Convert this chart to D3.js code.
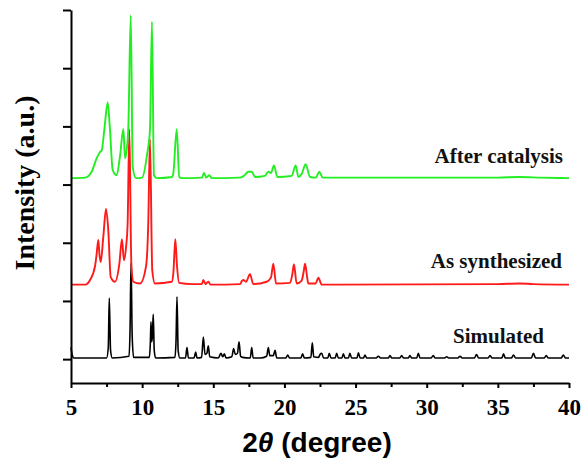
<!DOCTYPE html>
<html>
<head>
<meta charset="utf-8">
<style>
    body { margin: 0; background: #fff; }
    svg { display: block; }
    .axis path, .axis line { stroke: #000; stroke-width: 2px; }
    .axis text {
        font-family: 'Liberation Serif', 'Times New Roman', serif;
        font-weight: bold;
        font-size: 23px;
        fill: #000;
    }
    .label {
        font-family: 'Liberation Serif', 'Times New Roman', serif;
        font-weight: bold;
        font-size: 21px;
        fill: #111;
    }
</style>
</head>
<body>
<svg width="588" height="458"></svg>
<script src="https://d3js.org/d3.v7.min.js"></script>
<script>
// values: [2theta, intensity (a.u., offset included)]
let simulated = [
    [5.0, 20], [5.08, 8], [5.2, 2], [7.5, 2], [7.62, 20], [7.69, 105], [7.78, 15], [7.9, 2],
    [9.08, 5], [9.15, 50], [9.22, 165], [9.3, 40], [9.4, 3],
    [10.5, 3], [10.58, 30], [10.62, 64], [10.67, 30], [10.72, 40], [10.78, 77], [10.85, 15], [10.95, 2],
    [12.3, 3], [12.38, 30], [12.45, 107], [12.53, 15], [12.65, 2],
    [13.05, 2], [13.15, 20], [13.25, 2], [13.65, 2], [13.76, 12], [13.86, 2],
    [14.18, 3], [14.3, 38], [14.42, 8], [14.55, 10], [14.65, 23], [14.75, 4],
    [15.35, 2], [15.54, 10], [15.66, 4], [15.78, 9], [15.9, 2],
    [16.3, 4], [16.43, 18], [16.55, 8], [16.7, 10], [16.81, 30], [16.92, 5], [17.05, 3],
    [17.6, 2], [17.7, 20], [17.8, 2], [18.3, 2], [18.75, 5], [18.87, 20], [18.97, 6],
    [19.22, 6], [19.34, 15], [19.46, 2], [20.1, 2], [20.23, 7], [20.36, 2],
    [21.15, 2], [21.28, 9], [21.4, 2], [21.86, 3], [21.96, 28], [22.06, 4],
    [22.4, 3], [22.5, 8], [22.62, 10], [22.75, 2],
    [23.05, 2], [23.15, 10], [23.27, 2], [23.57, 2], [23.67, 10], [23.79, 2],
    [24.04, 2], [24.14, 9], [24.26, 2], [24.5, 2], [24.6, 10], [24.72, 2],
    [25.1, 2], [25.2, 11], [25.32, 2], [25.56, 2], [25.66, 7], [25.78, 2],
    [26.45, 2], [26.6, 5], [26.75, 2], [27.3, 2], [27.42, 6], [27.55, 2],
    [28.1, 2], [28.24, 6], [28.38, 2], [28.7, 2], [28.82, 6], [28.95, 2],
    [29.3, 2], [29.41, 10], [29.53, 2], [30.3, 2], [30.46, 6], [30.6, 2],
    [31.25, 2], [31.4, 4], [31.55, 2], [32.2, 2], [32.34, 5], [32.5, 2],
    [33.35, 2], [33.5, 8], [33.65, 2], [34.3, 2], [34.45, 6], [34.6, 2],
    [35.28, 2], [35.4, 9], [35.52, 2], [35.95, 2], [36.1, 7], [36.25, 2],
    [37.35, 2], [37.5, 10], [37.65, 2], [38.25, 2], [38.4, 6], [38.55, 2],
    [39.45, 2], [39.6, 7], [39.75, 2], [40.0, 2]
]

let synthesized = [
    [5.0, 128], [6.0, 128], [6.34, 136], [6.69, 160], [6.8, 180], [6.92, 205], [7.0, 180],
    [7.09, 167], [7.27, 210], [7.46, 258], [7.62, 222], [7.79, 141], [8.09, 133],
    [8.4, 164], [8.58, 206], [8.72, 170], [8.87, 193], [8.98, 233], [9.1, 395], [9.24, 165],
    [9.38, 133], [9.85, 130], [10.27, 159], [10.43, 233], [10.55, 378], [10.71, 153],
    [10.9, 130], [12.08, 133], [12.2, 150], [12.33, 206], [12.45, 160], [12.6, 131],
    [13.5, 129], [14.2, 129], [14.3, 136], [14.45, 129], [14.65, 133], [14.8, 128],
    [16.9, 129], [17.0, 134], [17.11, 136], [17.3, 133], [17.58, 146], [17.81, 129],
    [18.75, 133], [19.05, 140], [19.22, 164], [19.41, 130], [20.39, 131], [20.55, 145],
    [20.67, 163], [20.86, 130], [21.21, 135], [21.35, 150], [21.45, 164], [21.6, 140],
    [21.68, 130], [22.2, 130], [22.38, 140], [22.62, 128], [35.0, 129], [36.5, 130],
    [37.5, 129], [40.0, 128]
]

let catalysis = [
    [5.0, 311], [6.0, 312], [6.45, 322], [6.8, 345], [7.04, 356], [7.16, 359], [7.34, 394],
    [7.58, 441], [7.74, 394], [7.93, 325], [8.21, 316], [8.44, 348], [8.68, 395], [8.8, 345],
    [8.91, 359], [9.03, 399], [9.2, 591], [9.34, 330], [9.57, 311], [10.0, 312], [10.36, 354],
    [10.55, 394], [10.69, 580], [10.83, 316], [11.02, 311], [12.1, 313], [12.19, 319],
    [12.43, 395], [12.61, 313], [12.8, 311], [14.2, 312], [14.35, 320], [14.5, 312],
    [14.72, 316], [14.9, 311], [16.8, 312], [17.0, 313], [17.2, 316], [17.46, 322],
    [17.7, 322], [17.93, 313], [18.63, 315], [18.87, 322], [19.05, 320], [19.27, 333],
    [19.5, 313], [20.51, 315], [20.79, 333], [20.98, 313], [21.21, 318], [21.49, 335],
    [21.8, 313], [22.2, 312], [22.45, 322], [22.69, 312], [35.0, 312], [36.5, 313],
    [38.0, 312], [40.0, 311]
]

let seriesNames = ["Simulated", "As synthesized", "After catalysis"]
let seriesColors = ["#000000", "#ff1a1a", "#22ee22"]
let xMajorTicks = [5, 10, 15, 20, 25, 30, 35, 40]
let xMinorTicks = [7.5, 12.5, 17.5, 22.5, 27.5, 32.5, 37.5]
let yTicks = [0, 100, 200, 300, 400, 500, 600]

let svg = d3.select("svg")

let x = d3.scaleLinear()
    .domain([5, 40])
    .range([71, 569])

let y = d3.scaleLinear()
    .domain([-41, 600])
    .range([383, 10])

let line = d3.line()
    .x(d => x(d[0]))
    .y(d => y(d[1]))
    .curve(d3.curveMonotoneX)

let allSeries = [simulated, synthesized, catalysis]

svg.append("g")
    .selectAll("path")
    .data(allSeries)
    .join("path")
    .attr("fill", "none")
    .attr("stroke", (d, i) => seriesColors[i])
    .attr("stroke-width", (d, i) => i == 0 ? 1.6 : 1.9)
    .attr("stroke-linejoin", "round")
    .attr("d", line)

// axes
svg.append("g")
    .attr("class", "axis")
    .attr("transform", "translate(0,383)")
    .call(d3.axisBottom(x).tickValues(xMinorTicks).tickSize(4).tickSizeOuter(0).tickFormat(""))
    .call(g => g.select(".domain").remove())

svg.append("g")
    .attr("class", "axis")
    .attr("transform", "translate(0,383)")
    .call(d3.axisBottom(x).tickValues(xMajorTicks).tickSize(5).tickSizeOuter(0).tickPadding(11).tickFormat(d3.format("d")))

svg.append("g")
    .attr("class", "axis")
    .attr("transform", "translate(71,0)")
    .call(d3.axisLeft(y).tickValues(yTicks).tickSize(8).tickSizeOuter(0).tickFormat(""))

// series labels
let labelPos = [[544, 343], [562, 268], [563, 163]]
svg.append("g")
    .selectAll("text")
    .data(seriesNames)
    .join("text")
    .attr("class", "label")
    .attr("text-anchor", "end")
    .attr("x", (d, i) => labelPos[i][0])
    .attr("y", (d, i) => labelPos[i][1])
    .text(d => d)

// axis titles
let xTitle = svg.append("text")
    .attr("x", 317)
    .attr("y", 452)
    .attr("text-anchor", "middle")
    .style("font-family", "'Liberation Sans', Arial, sans-serif")
    .style("font-weight", "bold")
    .style("font-size", "28px")
xTitle.append("tspan").text("2")
xTitle.append("tspan").style("font-style", "italic").text("θ")
xTitle.append("tspan").text(" (degree)")

svg.append("text")
    .attr("transform", "translate(34,183) rotate(-90)")
    .attr("text-anchor", "middle")
    .style("font-family", "'Liberation Serif', 'Times New Roman', serif")
    .style("font-weight", "bold")
    .style("font-size", "28px")
    .text("Intensity (a.u.)")
</script>
</body>
</html>
